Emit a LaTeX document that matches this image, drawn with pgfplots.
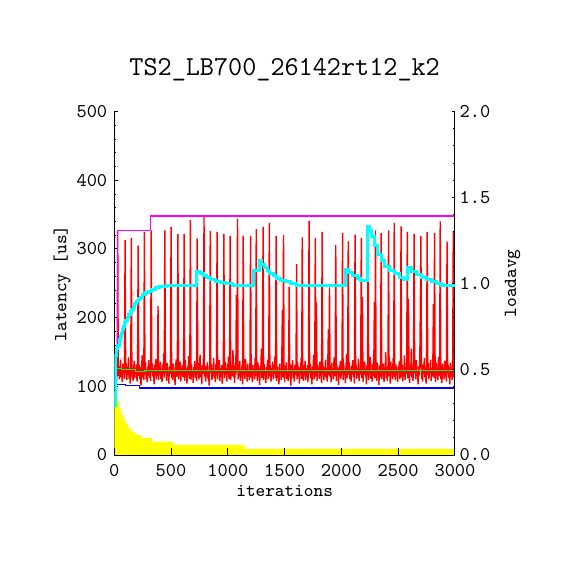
\documentclass[border=0pt]{standalone}
\usepackage{pgfplots}
\pgfplotsset{compat=1.18}
\definecolor{cRed}{RGB}{255,0,0}
\definecolor{cCyan}{RGB}{0,255,255}
\definecolor{cMag}{RGB}{255,0,255}
\definecolor{cBlue}{RGB}{0,0,255}
\definecolor{cGreen}{RGB}{0,255,0}
\definecolor{cYellow}{RGB}{255,255,0}
\begin{document}
\begin{tikzpicture}
\useasboundingbox (0,0) rectangle (285pt,285pt);
\pgfplotsset{
 base/.style={at={(57.15pt,57.5pt)}, anchor=south west, scale only axis,
   width=170.35pt, height=171.7pt, xmin=0, xmax=3000,
   tick align=inside, axis line style={line width=0.5pt},
   tick style={line width=0.5pt, black},
   ticklabel style={font=\ttfamily\fontsize{9.75}{11}\selectfont},
   label style={font=\ttfamily\fontsize{9.2}{11}\selectfont}},
}
% latency axis with data
\begin{axis}[base, ymin=0, ymax=500,
  axis x line*=bottom, axis y line*=left, xtick=\empty,
  ytick={0,100,200,300,400,500}, yticklabels={0,100,200,300,400,500},
  minor y tick num=4, major tick length=1.67pt, minor tick length=1pt,
  ylabel={latency [us]},
  ylabel style={at={(axis description cs:-0.1535,0.5)}, anchor=center},
  title={TS2\_LB700\_26142rt12\_k2},
  title style={at={(axis description cs:0.5,1)}, anchor=base, yshift=12.15pt,
    font=\ttfamily\fontsize{13.7}{16}\selectfont}]
% yellow histogram-like area
\addplot[fill=cYellow, draw=none, const plot] coordinates {
(0,92)(15,85)(30,78)(44,68)(59,61)(74,55)(88,50)(103,45)(121,39)(147,34)(185,29)(238,25)(332,19.5)(523,14.6)(1148,8.8)(3000,8.8)} \closedcycle;
% red latency series
\addplot[cRed, line width=0.7pt, line join=bevel] coordinates {
(0,122)(5,131)(10,112)(15,127)(20,108)(25,136)(30,327)(35,115)(40,129)(45,110)(50,124)(55,139)(60,113)(65,121)(70,106)(75,133)(80,117)(85,128)(90,111)(95,313)
(100,119)(105,134)(110,109)(115,125)(120,116)(125,142)(130,111)(135,123)(140,104)(145,130)(150,316)(155,114)(160,127)(165,108)(170,121)(175,137)(180,112)(185,126)(190,118)(195,132)
(200,107)(205,123)(210,305)(215,115)(220,131)(225,110)(230,128)(235,101)(240,119)(245,145)(250,113)(255,124)(260,109)(265,325)(270,117)(275,135)(280,111)(285,122)(290,106)(295,129)
(300,116)(305,138)(310,112)(315,126)(320,108)(325,327)(330,120)(335,133)(340,114)(345,125)(350,103)(355,131)(360,118)(365,140)(370,110)(375,123)(380,115)(385,217)(390,109)(395,128)
(400,121)(405,136)(410,111)(415,124)(420,106)(425,132)(430,117)(435,148)(440,113)(445,327)(450,119)(455,127)(460,108)(465,134)(470,115)(475,122)(480,104)(485,129)(490,118)(495,141)
(500,332)(505,112)(510,125)(515,109)(520,133)(525,116)(530,121)(535,102)(540,127)(545,139)(550,114)(555,123)(560,322)(565,110)(570,130)(575,117)(580,136)(585,107)(590,124)(595,119)
(600,131)(605,113)(610,127)(615,322)(620,108)(625,138)(630,115)(635,122)(640,104)(645,129)(650,118)(655,144)(660,111)(665,126)(670,342)(675,109)(680,132)(685,116)(690,123)(695,105)
(700,128)(705,119)(710,137)(715,112)(720,125)(725,108)(730,315)(735,117)(740,134)(745,110)(750,121)(755,146)(760,113)(765,127)(770,103)(775,131)(780,118)(785,139)(790,347)(795,114)
(800,124)(805,107)(810,130)(815,116)(820,135)(825,111)(830,122)(835,101)(840,128)(845,326)(850,119)(855,133)(860,109)(865,126)(870,115)(875,141)(880,112)(885,123)(890,106)(895,132)
(900,117)(905,325)(910,110)(915,129)(920,121)(925,138)(930,108)(935,124)(940,114)(945,131)(950,104)(955,127)(960,119)(965,322)(970,112)(975,136)(980,116)(985,125)(990,107)(995,133)
(1000,118)(1005,143)(1010,111)(1015,126)(1020,319)(1025,109)(1030,130)(1035,115)(1040,122)(1045,153)(1050,113)(1055,128)(1060,105)(1065,134)(1070,117)(1075,233)(1080,121)(1085,344)(1090,110)(1095,127)
(1100,114)(1105,137)(1110,108)(1115,124)(1120,119)(1125,131)(1130,103)(1135,319)(1140,116)(1145,129)(1150,111)(1155,140)(1160,118)(1165,125)(1170,107)(1175,133)(1180,115)(1185,122)(1190,109)(1195,136)
(1200,319)(1205,113)(1210,127)(1215,106)(1220,131)(1225,117)(1230,124)(1235,110)(1240,142)(1245,115)(1250,329)(1255,120)(1260,108)(1265,135)(1270,114)(1275,126)(1280,102)(1285,130)(1290,118)(1295,155)
(1300,112)(1305,125)(1310,332)(1315,109)(1320,132)(1325,116)(1330,123)(1335,105)(1340,128)(1345,119)(1350,139)(1355,111)(1360,126)(1365,338)(1370,114)(1375,131)(1380,107)(1385,124)(1390,117)(1395,136)
(1400,110)(1405,127)(1410,120)(1415,144)(1420,112)(1425,319)(1430,108)(1435,129)(1440,115)(1445,122)(1450,103)(1455,133)(1460,118)(1465,126)(1470,109)(1475,140)(1480,211)(1485,113)(1490,320)(1495,121)
(1500,106)(1505,130)(1510,117)(1515,135)(1520,111)(1525,124)(1530,108)(1535,129)(1540,245)(1545,114)(1550,127)(1555,101)(1560,132)(1565,119)(1570,138)(1575,112)(1580,125)(1585,107)(1590,131)(1595,116)
(1600,123)(1605,278)(1610,110)(1615,134)(1620,115)(1625,128)(1630,104)(1635,126)(1640,118)(1645,141)(1650,111)(1655,317)(1660,122)(1665,108)(1670,130)(1675,116)(1680,137)(1685,109)(1690,124)(1695,113)
(1700,131)(1705,106)(1710,127)(1715,341)(1720,119)(1725,133)(1730,112)(1735,125)(1740,103)(1745,129)(1750,117)(1755,146)(1760,110)(1765,123)(1770,316)(1775,114)(1780,222)(1785,108)(1790,132)(1795,120)
(1800,126)(1805,111)(1810,136)(1815,115)(1820,122)(1825,105)(1830,325)(1835,118)(1840,130)(1845,109)(1850,127)(1855,114)(1860,139)(1865,112)(1870,124)(1875,107)(1880,133)(1885,183)(1890,116)(1895,244)
(1900,113)(1905,128)(1910,106)(1915,134)(1920,117)(1925,125)(1930,110)(1935,142)(1940,115)(1945,121)(1950,306)(1955,108)(1960,131)(1965,118)(1970,126)(1975,102)(1980,129)(1985,114)(1990,137)(1995,111)
(2000,124)(2005,119)(2010,323)(2015,109)(2020,133)(2025,116)(2030,122)(2035,105)(2040,128)(2045,147)(2050,112)(2055,126)(2060,311)(2065,117)(2070,135)(2075,110)(2080,123)(2085,107)(2090,130)(2095,118)
(2100,138)(2105,113)(2110,125)(2115,104)(2120,321)(2125,119)(2130,131)(2135,111)(2140,127)(2145,115)(2150,140)(2155,108)(2160,122)(2165,117)(2170,134)(2175,316)(2180,112)(2185,230)(2190,106)(2195,129)
(2200,120)(2205,136)(2210,114)(2215,125)(2220,103)(2225,131)(2230,116)(2235,332)(2240,109)(2245,128)(2250,118)(2255,143)(2260,111)(2265,124)(2270,107)(2275,133)(2280,115)(2285,126)(2290,223)(2295,112)
(2300,327)(2305,121)(2310,108)(2315,135)(2320,117)(2325,124)(2330,102)(2335,130)(2340,113)(2345,139)(2350,323)(2355,110)(2360,127)(2365,116)(2370,133)(2375,106)(2380,122)(2385,119)(2390,150)(2395,112)
(2400,125)(2405,108)(2410,131)(2415,327)(2420,115)(2425,128)(2430,104)(2435,136)(2440,118)(2445,123)(2450,110)(2455,141)(2460,114)(2465,338)(2470,126)(2475,109)(2480,132)(2485,117)(2490,124)(2495,106)
(2500,129)(2505,120)(2510,137)(2515,111)(2520,126)(2525,333)(2530,113)(2535,131)(2540,107)(2545,122)(2550,116)(2555,145)(2560,109)(2565,128)(2570,118)(2575,134)(2580,325)(2585,112)(2590,227)(2595,121)
(2600,105)(2605,130)(2610,117)(2615,155)(2620,113)(2625,124)(2630,108)(2635,133)(2640,322)(2645,119)(2650,127)(2655,110)(2660,138)(2665,115)(2670,122)(2675,103)(2680,129)(2685,116)(2690,136)(2695,215)
(2700,319)(2705,111)(2710,125)(2715,107)(2720,132)(2725,118)(2730,141)(2735,113)(2740,126)(2745,104)(2750,130)(2755,325)(2760,116)(2765,134)(2770,110)(2775,123)(2780,119)(2785,139)(2790,108)(2795,127)
(2800,114)(2805,131)(2810,220)(2815,112)(2820,323)(2825,120)(2830,106)(2835,135)(2840,117)(2845,124)(2850,109)(2855,143)(2860,115)(2865,128)(2870,340)(2875,111)(2880,122)(2885,105)(2890,133)(2895,118)
(2900,126)(2905,110)(2910,137)(2915,114)(2920,123)(2925,107)(2930,311)(2935,119)(2940,131)(2945,112)(2950,128)(2955,103)(2960,134)(2965,116)(2970,125)(2975,109)(2980,139)(2985,326)(2990,113)(2995,127)(3000,118)
};
% min
\addplot[cBlue, line width=0.75pt, const plot] coordinates {(0,122)(5,103)(100,101)(220,97.8)(3000,97.8)};
% average
\addplot[cGreen, line width=0.6pt, const plot] coordinates {(10,126)(60,125)(110,124)(185,121.5)(270,123.3)(3000,123.3)};
% max
\addplot[cMag, line width=0.65pt, const plot] coordinates {(0,145)(27,327)(318,348)(3000,348)};
\end{axis}
% loadavg axis
\begin{axis}[base, ymin=0, ymax=2, hide x axis, axis y line*=right,
  ytick={0,0.5,1,1.5,2}, yticklabels={0.0,0.5,1.0,1.5,2.0},
  yticklabel style={xshift=-1.2pt},
  minor y tick num=4, major tick length=1.67pt, minor tick length=1pt,
  ylabel={loadavg},
  ylabel style={at={(axis description cs:1.169,0.5)}, anchor=center}]
\addplot[cCyan, line width=1.5pt, const plot] coordinates {
(0,0.29)(12,0.58)(22,0.62)(32,0.64)(42,0.67)(52,0.69)(62,0.71)(72,0.73)(82,0.75)(92,0.77)(102,0.785)(115,0.80)(128,0.82)(140,0.835)(152,0.85)(165,0.865)(178,0.88)(192,0.895)(210,0.91)(228,0.92)(250,0.935)(275,0.945)(300,0.955)(330,0.965)(365,0.975)(400,0.98)(460,0.99)
(722,1.067)(755,1.055)(785,1.043)(815,1.032)(850,1.022)(890,1.013)(935,1.005)(980,0.998)(1040,0.99)
(1230,1.077)(1280,1.131)(1300,1.112)(1320,1.093)(1345,1.077)(1370,1.06)(1400,1.045)(1430,1.03)(1465,1.018)(1510,1.01)(1555,1.0)(1600,0.99)
(2035,1.079)(2060,1.063)(2100,1.045)(2140,1.03)(2170,1.018)(2200,1.014)
(2228,1.33)(2245,1.31)(2262,1.27)(2290,1.22)(2320,1.17)(2350,1.13)(2380,1.10)(2420,1.075)(2465,1.055)(2510,1.035)(2550,1.02)
(2583,1.093)(2618,1.067)(2662,1.05)(2706,1.035)(2750,1.02)(2794,1.01)(2840,1.0)(2883,0.99)(3000,0.99)};
\end{axis}
% x ticks and label
\begin{axis}[base, ymin=0, ymax=1, hide y axis, axis x line*=bottom,
  xtick={0,500,1000,1500,2000,2500,3000},
  xticklabels={0,500,1000,1500,2000,2500,3000},
  xticklabel style={yshift=-1.25pt},
  major tick length=3.3pt,
  xlabel={iterations},
  xlabel style={at={(axis description cs:0.5,-0.105)}, anchor=center}]
\end{axis}
\end{tikzpicture}
\end{document}
